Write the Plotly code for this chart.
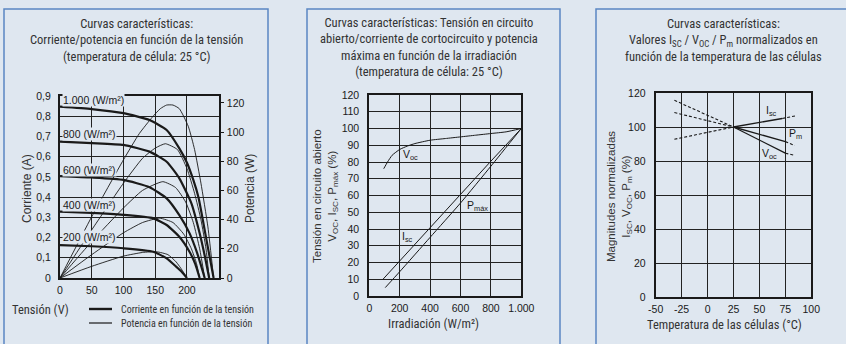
import plotly.graph_objects as go

W, H = 846, 344
BG = "#dfe7f0"
BORDER = "#5b87c2"
INK = "#1a1a1a"
TICKF = "Liberation Sans, Arial, sans-serif"
NARROW = "Liberation Sans Narrow, Roboto Condensed, Liberation Sans, sans-serif"

# ---------------- Panel 1: I-V and P-V curves ----------------
irr_labels = ["1.000 (W/m²)", "800 (W/m²)", "600 (W/m²)", "400 (W/m²)", "200 (W/m²)"]
label_pos_i = [0.88, 0.712, 0.534, 0.361, 0.203]

v_1000 = [0, 50, 100, 141, 168, 188, 200, 210, 218, 225, 233, 242]
i_1000 = [0.847, 0.835, 0.815, 0.781, 0.732, 0.641, 0.57, 0.485, 0.40, 0.287, 0.15, 0.0]
v_800 = [0, 50, 100, 141, 168, 188, 207, 220, 228, 235]
i_800 = [0.674, 0.667, 0.658, 0.625, 0.575, 0.493, 0.369, 0.221, 0.11, 0.0]
v_600 = [0, 50, 100, 141, 168, 188, 204, 216, 228]
i_600 = [0.504, 0.497, 0.485, 0.449, 0.394, 0.311, 0.222, 0.124, 0.0]
v_400 = [0, 50, 100, 147, 168, 188, 204, 213, 220]
i_400 = [0.328, 0.322, 0.312, 0.295, 0.262, 0.204, 0.13, 0.07, 0.0]
v_200 = [0, 50, 100, 147, 168, 183, 192, 200]
i_200 = [0.163, 0.157, 0.147, 0.13, 0.097, 0.056, 0.03, 0.0]

pv_1000 = [0, 50, 100, 125, 145, 158, 168, 178, 188, 202, 212, 222, 233, 242]
p_1000 = [0, 42, 81, 99, 110, 116, 118.5, 118.5, 116, 104, 88, 65, 35, 0]
pv_800 = [0, 50, 100, 130, 150, 166, 185, 200, 212, 222, 230, 235]
p_800 = [0, 33, 65, 82, 89, 92, 88, 75, 58, 40, 20, 0]
pv_600 = [0, 50, 100, 130, 162, 182, 198, 210, 220, 228]
p_600 = [0, 25, 48, 60, 66, 62, 52, 38, 20, 0]
pv_400 = [0, 50, 100, 130, 157, 178, 195, 207, 215, 220]
p_400 = [0, 16, 31, 38, 41, 38, 30, 20, 10, 0]
pv_200 = [0, 50, 100, 130, 152, 170, 183, 193, 200]
p_200 = [0, 8, 15, 17.5, 18, 16, 11, 5, 0]

i_ticks = [0, 0.1, 0.2, 0.3, 0.4, 0.5, 0.6, 0.7, 0.8, 0.9]
i_ticktext = ["0", "0,1", "0,2", "0,3", "0,4", "0,5", "0,6", "0,7", "0,8", "0,9"]
p_ticks = [0, 20, 40, 60, 80, 100, 120]
v_ticks = [0, 50, 100, 150, 200]

# ---------------- Panel 2: vs irradiance ----------------
irr_voc = [95, 120, 150, 200, 250, 300, 400, 500, 600, 700, 800, 900, 1000]
voc_irr = [76, 80, 84, 87.5, 89.5, 91, 93, 94, 95, 96, 97, 98, 100]
irr_isc = [90, 200, 400, 600, 800, 1000]
isc_irr = [10, 21, 41, 61, 80.5, 100]
irr_pmax = [105, 200, 400, 600, 800, 1000]
pmax_irr = [5, 14.5, 35, 55.5, 77.5, 100]
irr_ticks = [0, 200, 400, 600, 800, 1000]
irr_ticktext = ["0", "200", "400", "600", "800", "1.000"]
pct_ticks = list(range(0, 121, 10))

# ---------------- Panel 3: vs temperature ----------------
t_left = [-32, 25]
t_mid_isc = [25, 72]
t_right_isc = [72, 85]
t_mid = [25, 75]
t_right = [75, 84]
isc_left = [92.8, 100]
isc_mid = [100, 105]
isc_right = [105, 106.6]
pm_left = [108.5, 100]
pm_mid = [100, 91.4]
pm_right = [91.4, 89.1]
voc_left = [115.7, 100]
voc_mid = [100, 84.6]
voc_right = [84.6, 83.3]
temp_ticks = [-50, -25, 0, 25, 50, 75, 100]
temp_ticktext = ["-50", "-25", "0", "25", "50", "75", "100"]
norm_ticks = [0, 20, 40, 60, 80, 100, 120]


def px(x):
    return x / W


def py(y):
    return 1 - y / H


fig = go.Figure()

def line(x, y, xa, ya, width=1.0, dash="solid", spline=True):
    fig.add_trace(go.Scatter(
        x=x, y=y, xaxis=xa, yaxis=ya, mode="lines",
        line=dict(color=INK, width=width, dash=dash,
                  shape="spline" if spline else "linear", smoothing=0.5),
        showlegend=False, hoverinfo="skip"))

# Panel 1 curves
for vv, ii in [(v_1000, i_1000), (v_800, i_800), (v_600, i_600), (v_400, i_400), (v_200, i_200)]:
    line(vv, ii, "x", "y", width=2.2)
for vv, pp in [(pv_1000, p_1000), (pv_800, p_800), (pv_600, p_600), (pv_400, p_400), (pv_200, p_200)]:
    line(vv, pp, "x", "y2", width=0.9)

# Panel 2 curves
line(irr_voc, voc_irr, "x2", "y3", width=1.0)
line(irr_isc, isc_irr, "x2", "y3", width=1.0, spline=False)
line(irr_pmax, pmax_irr, "x2", "y3", width=1.0)

# Panel 3 lines
for tl, yl in [(t_left, isc_left), (t_right_isc, isc_right), (t_left, pm_left), (t_right, pm_right),
               (t_left, voc_left), (t_right, voc_right)]:
    line(tl, yl, "x3", "y4", width=1.1, dash="3px,2px", spline=False)
for tl, yl in [(t_mid_isc, isc_mid), (t_mid, pm_mid), (t_mid, voc_mid)]:
    line(tl, yl, "x3", "y4", width=1.3, spline=False)

axcommon = dict(showline=True, linecolor=INK, linewidth=2, mirror=True, automargin=False,
                showgrid=True, gridcolor="#222222", gridwidth=1, zeroline=False,
                tickfont=dict(family=TICKF, size=10.5, color=INK), fixedrange=True)

fig.update_layout(
    width=W, height=H, margin=dict(l=0, r=0, t=0, b=0, autoexpand=False),
    paper_bgcolor=BG, plot_bgcolor=BG, showlegend=False,
    xaxis=dict(domain=[px(60), px(218.7)], range=[0, 250], anchor="y",
               tickvals=v_ticks, ticks="", ticklabelstandoff=1, **axcommon),
    yaxis=dict(domain=[py(278), py(96)], range=[0, 0.9], anchor="x",
               tickvals=i_ticks, ticktext=i_ticktext, ticks="", ticklabelstandoff=5, **axcommon),
    yaxis2=dict(overlaying="y", side="right", anchor="x", range=[0, 124.7], automargin=False,
                tickvals=p_ticks, ticks="outside", ticklen=4, tickcolor=INK, showgrid=False,
                showline=False, zeroline=False, ticklabelstandoff=1,
                tickfont=dict(family=TICKF, size=10.5, color=INK), fixedrange=True),
    xaxis2=dict(domain=[px(369.3), px(521.3)], range=[0, 1000], anchor="y3",
                tickvals=irr_ticks, ticktext=irr_ticktext, ticks="", ticklabelstandoff=1, **axcommon),
    yaxis3=dict(domain=[py(296), py(95)], range=[0, 120], anchor="x2",
                tickvals=pct_ticks, ticks="", ticklabelstandoff=6, **axcommon),
    xaxis3=dict(domain=[px(655.7), px(811.3)], range=[-50, 100], anchor="y4",
                tickvals=temp_ticks, ticktext=temp_ticktext, ticks="", ticklabelstandoff=1, **axcommon),
    yaxis4=dict(domain=[py(297), py(93)], range=[0, 120], anchor="x3",
                tickvals=norm_ticks, ticks="", ticklabelstandoff=6, **axcommon),
)

shapes = []
# panel frames
for x0, x1 in [(4, 268), (307, 560), (596, 852)]:
    shapes.append(dict(type="rect", xref="paper", yref="paper", x0=px(x0), x1=px(x1),
                       y0=py(352), y1=py(9), line=dict(color=BORDER, width=1.5),
                       fillcolor="rgba(0,0,0,0)", layer="below"))
# legend swatches (panel 1)
shapes.append(dict(type="line", xref="paper", yref="paper", x0=px(89), x1=px(112),
                   y0=py(309), y1=py(309), line=dict(color=INK, width=2.4)))
shapes.append(dict(type="line", xref="paper", yref="paper", x0=px(89), x1=px(112),
                   y0=py(323), y1=py(323), line=dict(color=INK, width=1.2)))
fig.update_layout(shapes=shapes)

ann = []

def pa(text, x, y, size=12.5, family=NARROW, angle=0, xanchor="center", yanchor="middle", align="center"):
    ann.append(dict(text=text, x=px(x), y=py(y), xref="paper", yref="paper", showarrow=False,
                    font=dict(family=family, size=size, color="#333333"), textangle=angle,
                    xanchor=xanchor, yanchor=yanchor, align=align))

# Titles
pa("Curvas características:<br>Corriente/potencia en función de la tensión<br>(temperatura de célula: 25 °C)",
   136, 40)
pa("Curvas características: Tensión en circuito<br>abierto/corriente de cortocircuito y potencia<br>"
   "máxima en función de la irradiación<br>(temperatura de célula: 25 °C)", 429, 47)
pa("Curvas características:<br>Valores I<sub>SC</sub> / V<sub>OC</sub> / P<sub>m</sub> normalizados en<br>"
   "función de la temperatura de las células", 723, 40)

# Axis titles
pa("Corriente (A)", 27, 188, size=12, family=TICKF, angle=-90)
pa("Potencia (W)", 250, 188, size=12, family=TICKF, angle=-90)
pa("Tensión (V)", 40, 309, size=12.5)
pa("Corriente en función de la tensión", 119, 309, size=10, xanchor="left")
pa("Potencia en función de la tensión", 119, 323, size=10, xanchor="left")
pa("Tensión en circuito abierto<br>V<sub>OC</sub>, I<sub>SC</sub>, P<sub>máx</sub> (%)", 325, 196,
   size=11.5, family=TICKF, angle=-90)
pa("Irradiación (W/m²)", 434, 323, size=12.5)
pa("Magnitudes normalizadas<br>I<sub>SC</sub>, V<sub>OC</sub>, P<sub>m</sub> (%)", 619, 197,
   size=11.5, family=TICKF, angle=-90)
pa("Temperatura de las células (°C)", 724, 324, size=12.5)

# Curve labels panel 1
for lab, yi in zip(irr_labels, label_pos_i):
    ann.append(dict(text=lab, x=3, y=yi, xref="x", yref="y", showarrow=False, xanchor="left",
                    yanchor="middle", bgcolor=BG, borderpad=0,
                    font=dict(family=TICKF, size=10.5, color=INK)))

# Curve labels panel 2
for txt, xv, yv in [("V<sub>oc</sub>", 270, 84), ("P<sub>máx</sub>", 715, 54), ("I<sub>sc</sub>", 250, 35)]:
    ann.append(dict(text=txt, x=xv, y=yv, xref="x2", yref="y3", showarrow=False,
                    font=dict(family=TICKF, size=10.5, color=INK)))
# Curve labels panel 3
for txt, xv, yv in [("I<sub>sc</sub>", 62, 109.5), ("P<sub>m</sub>", 85, 96), ("V<sub>oc</sub>", 60, 84)]:
    ann.append(dict(text=txt, x=xv, y=yv, xref="x3", yref="y4", showarrow=False,
                    font=dict(family=TICKF, size=10.5, color=INK)))

fig.update_layout(annotations=ann)
fig.write_html(
    "out.html",
    config={"displayModeBar": False},
    post_script="document.body.style.margin='0';document.body.style.overflow='hidden';",
)
